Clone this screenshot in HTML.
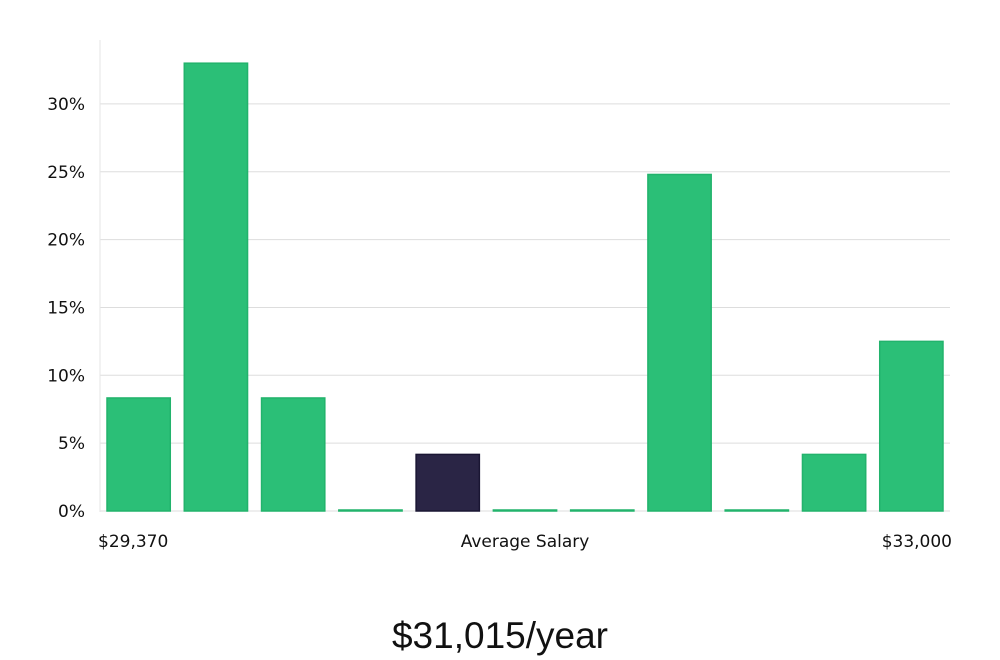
<!DOCTYPE html>
<html><head><meta charset="utf-8"><style>
body{margin:0;background:#fff;width:1000px;height:660px;overflow:hidden;font-family:"DejaVu Sans","Liberation Sans",sans-serif;}
svg{display:block}
</style></head><body>
<svg id="chart" width="1000" height="660" xmlns="http://www.w3.org/2000/svg">
<g id="grid"></g>
<g id="yticks"></g>
<g id="bars"></g>
<line x1="100" y1="40" x2="100" y2="512" stroke="#e6e6e6" stroke-width="1"/>
<text x="98" y="547" font-size="17" fill="#111">$29,370</text>
<text x="525" y="547" font-size="17" fill="#111" text-anchor="middle">Average Salary</text>
<text x="952" y="547" font-size="17" fill="#111" text-anchor="end">$33,000</text>
<text x="500" y="648" font-size="37" fill="#111" text-anchor="middle" font-family="Liberation Sans, sans-serif" font-weight="300">$31,015/year</text>
</svg>
<script>
const values=[8.33,33.0,8.33,0,4.17,0,0,24.8,0,4.17,12.5];
const highlight=[false,false,false,false,true,false,false,false,false,false,false];
const ticks=[0,5,10,15,20,25,30];
const ns="http://www.w3.org/2000/svg";
const x0=100,x1=950,y0=511,pxPer=13.57;
const y=v=>y0-v*pxPer;
const slot=(x1-x0)/values.length;
const g=document.getElementById('grid'),yt=document.getElementById('yticks'),b=document.getElementById('bars');
ticks.forEach(t=>{
 const l=document.createElementNS(ns,'line');
 
 
 l.setAttribute('x1',x0);l.setAttribute('x2',x1);l.setAttribute('y1',y(t));l.setAttribute('y2',y(t));
 l.setAttribute('stroke','#dddddd');l.setAttribute('stroke-width','1');
 g.appendChild(l);
 const tx=document.createElementNS(ns,'text');
 
 
 tx.setAttribute('x',85);tx.setAttribute('y',y(t)+6);tx.setAttribute('text-anchor','end');
 tx.setAttribute('font-size','17');tx.setAttribute('fill','#111');
 tx.textContent=t+'%';
 yt.appendChild(tx);
});
values.forEach((v,i)=>{
 const r=document.createElementNS(ns,'rect');
 
 
 const h=Math.max(v*pxPer,1);
 r.setAttribute('x',x0+i*slot+7);r.setAttribute('width',slot-14);
 r.setAttribute('y',y0-h);r.setAttribute('height',h);
 r.setAttribute('fill',highlight[i]?'#2a2545':'#2bbf77');
 r.setAttribute('stroke',highlight[i]?'#1a1633':'#22b36c');
 r.setAttribute('stroke-width','1.5');
 b.appendChild(r);
});
</script>
</body></html>
